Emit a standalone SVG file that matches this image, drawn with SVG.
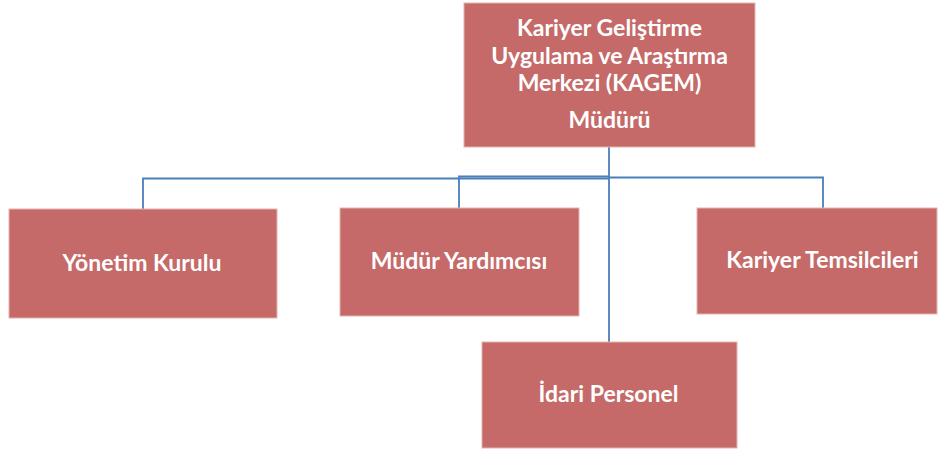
<svg xmlns="http://www.w3.org/2000/svg" width="938" height="450" viewBox="0 0 938 450">
<style>
.box{fill:#C56A68;stroke:#E3B3B2;stroke-width:1}
.t{font-family:Lato,"Open Sans","Liberation Sans",sans-serif;font-weight:bold;font-size:23px;fill:#FFFFFF;text-anchor:middle}
.c{fill:none;stroke:#4A7EBB;stroke-width:1.8}
</style>
<rect width="938" height="450" fill="#FFFFFF"/>
<g id="connectors">
<path class="c" d="M609,147 V342"/>
<path class="c" d="M143,209 V178.5 H609"/>
<path class="c" d="M459,208 V176.5 H609"/>
<path class="c" d="M609,177.5 H823 V208"/>
</g>
<g id="mudur">
<rect class="box" x="464" y="3" width="291" height="144"/>
<text class="t" x="609.5" y="36">Kariyer Geliştirme</text>
<text class="t" x="609.5" y="63.5">Uygulama ve Araştırma</text>
<text class="t" x="609.5" y="91">Merkezi (KAGEM)</text>
<text class="t" x="609.5" y="128">Müdürü</text>
</g>
<g id="yonetim">
<rect class="box" x="9" y="209" width="268" height="109"/>
<text class="t" x="142" y="271">Yönetim Kurulu</text>
</g>
<g id="yardimci">
<rect class="box" x="340" y="208" width="239" height="108"/>
<text class="t" x="459" y="269">Müdür Yardımcısı</text>
</g>
<g id="temsilci">
<rect class="box" x="697" y="208" width="240" height="106"/>
<text class="t" x="822.5" y="268">Kariyer Temsilcileri</text>
</g>
<g id="idari">
<rect class="box" x="482" y="342" width="255" height="106"/>
<text class="t" x="608.5" y="402">İdari Personel</text>
</g>
</svg>
